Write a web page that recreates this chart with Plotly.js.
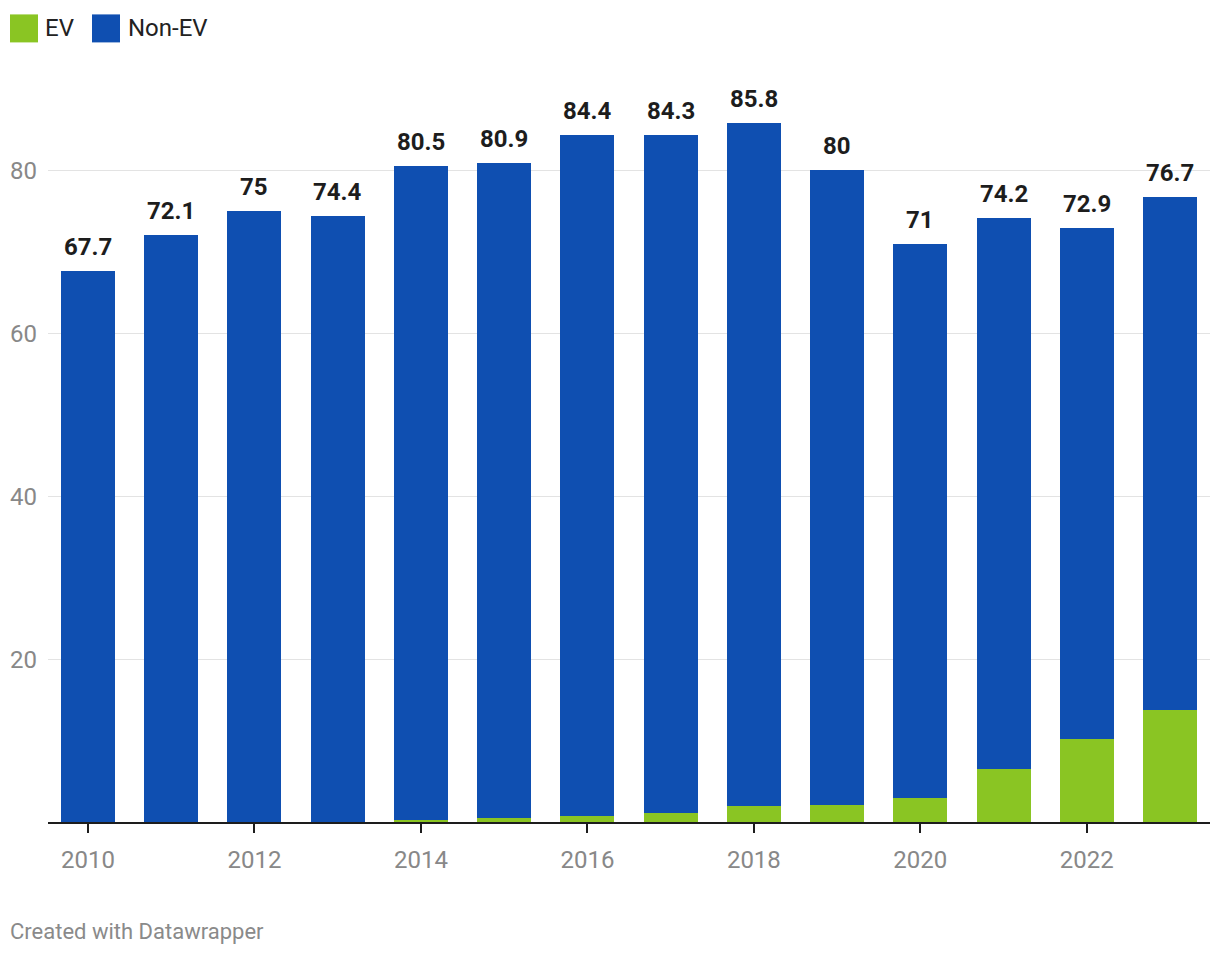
<!DOCTYPE html>
<html>
<head>
<meta charset="utf-8">
<script src="https://cdn.plot.ly/plotly-3.0.1.min.js"></script>
<style>
  html, body { margin: 0; padding: 0; background: #fff; }
  #chart { width: 1220px; height: 956px; }
</style>
</head>
<body>
<div id="chart"></div>
<script>
const years = [2010, 2011, 2012, 2013, 2014, 2015, 2016, 2017, 2018, 2019, 2020, 2021, 2022, 2023];
const totals = [67.7, 72.1, 75, 74.4, 80.5, 80.9, 84.4, 84.3, 85.8, 80, 71, 74.2, 72.9, 76.7];
const ev = [0.0, 0.01, 0.01, 0.03, 0.2, 0.45, 0.75, 1.1, 1.95, 2.05, 2.9, 6.5, 10.2, 13.7];
const nonEv = totals.map((t, i) => +(t - ev[i]).toFixed(2));
const yTicks = [20, 40, 60, 80];
const xTicks = [2010, 2012, 2014, 2016, 2018, 2020, 2022];

const GREEN = '#8ac523';
const BLUE = '#0f4fb1';
const FONT = 'Roboto, "Noto Sans", Arial, sans-serif';

const W = 1220, H = 956;
const L = 48, R = 10, T = 88.6, B = 134.3;
const pw = W - L - R, ph = H - T - B;
const px2x = px => (px - L) / pw;
const py2y = py => (H - B - py) / ph;

const traces = [
  { type: 'bar', name: 'EV', x: years, y: ev, marker: { color: GREEN }, width: 0.65, hoverinfo: 'x+y+name' },
  { type: 'bar', name: 'Non-EV', x: years, y: nonEv, marker: { color: BLUE }, width: 0.65, hoverinfo: 'x+y+name' }
];

const annotations = years.map((yr, i) => ({
  x: yr, y: totals[i], xref: 'x', yref: 'y',
  text: '<b>' + totals[i] + '</b>', showarrow: false,
  yanchor: 'middle', yshift: 24,
  font: { family: FONT, size: 24, color: '#1d1d1d' }
}));

const legendItems = [
  { name: 'EV', color: GREEN, x0: 10, tx: 43 },
  { name: 'Non-EV', color: BLUE, x0: 92, tx: 126 }
];
const shapes = [];
legendItems.forEach(it => {
  shapes.push({ type: 'rect', xref: 'paper', yref: 'paper',
    x0: px2x(it.x0), x1: px2x(it.x0 + 28), y0: py2y(42), y1: py2y(14),
    fillcolor: it.color, line: { width: 0 } });
  annotations.push({ xref: 'paper', yref: 'paper', x: px2x(it.tx), y: py2y(28),
    xanchor: 'left', yanchor: 'middle', text: it.name, showarrow: false,
    font: { family: FONT, size: 24, color: '#222' } });
});
annotations.push({ xref: 'paper', yref: 'paper', x: px2x(8), y: py2y(931),
  xanchor: 'left', yanchor: 'middle', text: 'Created with Datawrapper', showarrow: false,
  font: { family: FONT, size: 22, color: '#8a8a8a' } });

const layout = {
  width: W, height: H,
  margin: { l: L, r: R, t: T, b: B, pad: 0 },
  paper_bgcolor: '#fff', plot_bgcolor: '#fff',
  barmode: 'stack', bargap: 0.35,
  showlegend: false,
  font: { family: FONT },
  xaxis: {
    range: [2009.52, 2023.48], tickvals: xTicks, ticktext: xTicks.map(String),
    ticks: 'outside', ticklen: 9, tickwidth: 2, tickcolor: '#1d1d1d',
    showline: true, linecolor: '#1d1d1d', linewidth: 2,
    showgrid: false, zeroline: false, fixedrange: true,
    tickfont: { family: FONT, size: 24, color: '#888' }, ticklabelstandoff: 6
  },
  yaxis: {
    range: [0, 90], tickvals: yTicks, ticktext: yTicks.map(String),
    showgrid: true, gridcolor: '#e3e3e3', gridwidth: 1,
    zeroline: false, showline: false, ticks: '', fixedrange: true,
    tickfont: { family: FONT, size: 24, color: '#888' }, ticklabelstandoff: 10
  },
  annotations: annotations,
  shapes: shapes
};

Plotly.newPlot('chart', traces, layout, { displayModeBar: false, staticPlot: true });
</script>
</body>
</html>
